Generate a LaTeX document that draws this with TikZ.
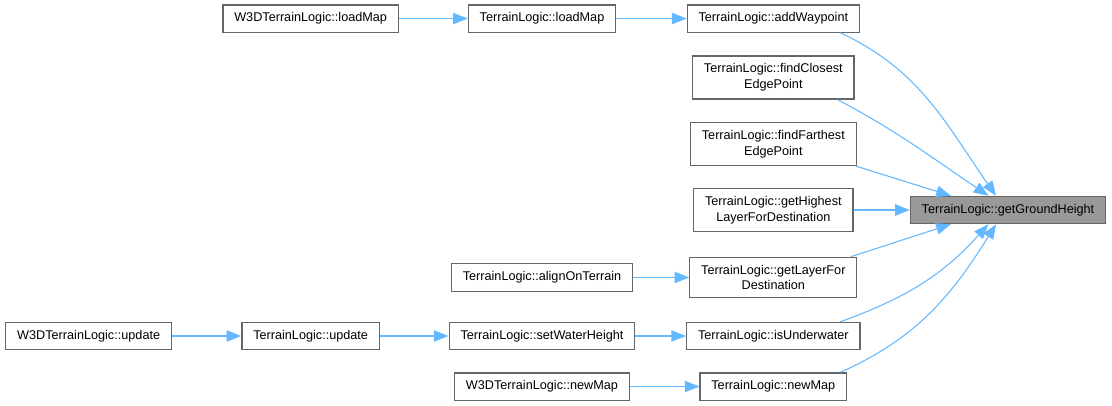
\documentclass[tikz,border=0pt]{standalone}
\usepackage{fontspec}
\setmainfont{Liberation Sans}
\usetikzlibrary{arrows.meta}
\definecolor{edgeblue}{HTML}{63B8FF}
\definecolor{boxgray}{HTML}{666666}
\definecolor{focusgray}{HTML}{999999}

\begin{document}
\begin{tikzpicture}[node distance=173.5pt, every node/.style={rectangle, draw=boxgray, line width=0.9pt, fill=white, align=center, font=\fontsize{9.5pt}{11.75pt}\selectfont, inner xsep=8.5pt, inner ysep=5.8pt, minimum height=20pt},
  focusbox/.style={fill=focusgray},
  callarrow/.style={draw=edgeblue, line width=0.8pt, -{Triangle[length=11pt,width=8.5pt]}}]
  \useasboundingbox (-756pt,-146.25pt) rectangle (78pt,157.5pt);

  \node (ground) [focusbox] at (0,0) {TerrainLogic::getGroundHeight};

  % direct callers
  \node (addwp) [left of=ground, xshift=-2.5pt, yshift=143.6pt] {TerrainLogic::addWaypoint};
  \node (closest) [left of=ground, xshift=-2.5pt, yshift=99.4pt] {TerrainLogic::findClosest\\EdgePoint};
  \node (farthest) [left of=ground, xshift=-2.5pt, yshift=49.5pt] {TerrainLogic::findFarthest\\EdgePoint};
  \node (highest) [left of=ground, xshift=-2.5pt] {TerrainLogic::getHighest\\LayerForDestination};
  \node (layerfor) [left of=ground, xshift=-2.5pt, yshift=-50.6pt] {TerrainLogic::getLayerFor\\Destination};
  \node (underwater) [left of=ground, xshift=-2.5pt, yshift=-94.5pt] {TerrainLogic::isUnderwater};
  \node (tlnewmap) [left of=ground, xshift=-2.5pt, yshift=-132.4pt] {TerrainLogic::newMap};

  % callers further out
  \node (tlloadmap) [left of=addwp] {TerrainLogic::loadMap};
  \node (w3dloadmap) [left of=tlloadmap] {W3DTerrainLogic::loadMap};
  \node (align) [left of=layerfor] {TerrainLogic::alignOnTerrain};
  \node (water) [left of=underwater] {TerrainLogic::setWaterHeight};
  \node (tlupdate) [left of=water] {TerrainLogic::update};
  \node (w3dupdate) [left of=tlupdate, xshift=7pt] {W3DTerrainLogic::update};
  \node (w3dnewmap) [left of=tlnewmap] {W3DTerrainLogic::newMap};

  \draw[callarrow] (addwp.-12) to[out=-25, in=125] (ground.130);
  \draw[callarrow] (closest.-19) to[out=-28, in=146] (ground.144);
  \draw[callarrow] (farthest.-15) -- (ground.166);
  \draw[callarrow] (highest) -- (ground);
  \draw[callarrow] (layerfor.15) -- (ground.194);
  \draw[callarrow] (underwater.12) to[out=20, in=-132] (ground.216);
  \draw[callarrow] (tlnewmap.12) to[out=24, in=-122] (ground.230);

  \draw[callarrow] (w3dloadmap) -- (tlloadmap);
  \draw[callarrow] (tlloadmap) -- (addwp);
  \draw[callarrow] (align) -- (layerfor);
  \draw[callarrow] (w3dupdate) -- (tlupdate);
  \draw[callarrow] (tlupdate) -- (water);
  \draw[callarrow] (water) -- (underwater);
  \draw[callarrow] (w3dnewmap) -- (tlnewmap);
\end{tikzpicture}
\end{document}
